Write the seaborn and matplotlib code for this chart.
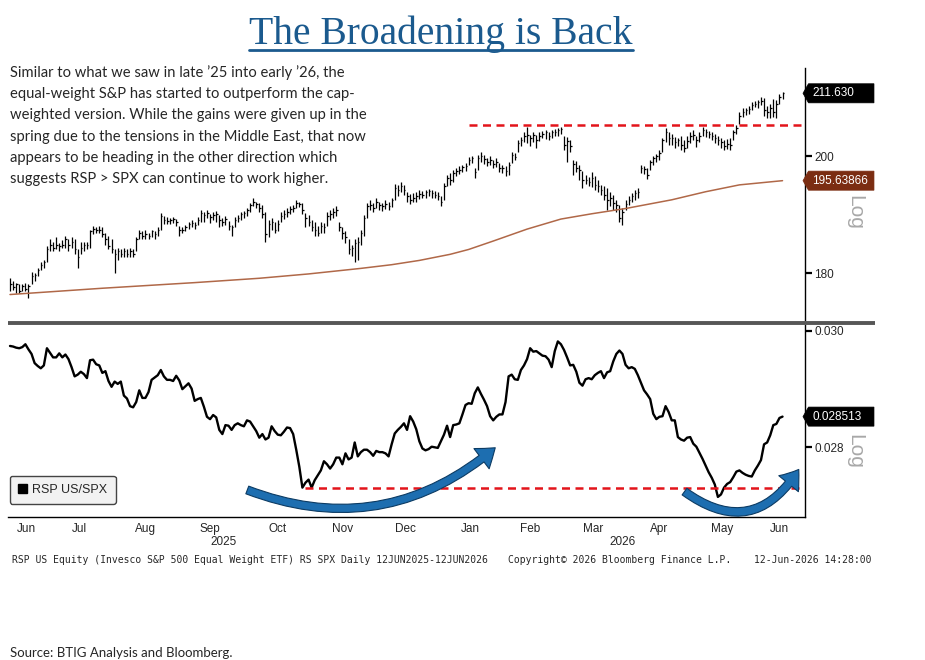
import numpy as np
import pandas as pd
import matplotlib
matplotlib.use("Agg")
import matplotlib.pyplot as plt
import matplotlib.ticker as mticker
from matplotlib.lines import Line2D
from matplotlib.patches import FancyArrowPatch, Patch
from matplotlib.path import Path
import seaborn as sns

# ---- data -------------------------------------------------------------
start_date = "2025-06-12"
end_date = "2026-06-12"
nyse_holidays = ["2025-06-19", "2025-07-04", "2025-09-01", "2025-11-27", "2025-12-25",
                 "2026-01-01", "2026-01-19", "2026-02-16", "2026-04-03", "2026-05-25"]

# RSP daily bars (high / low / close)
rsp_high = [
    179.2, 178.8, 178.5, 178.2, 178.3, 178.5, 178.3, 180.2, 180.0, 180.9,
    181.9, 182.2, 184.4, 185.6, 185.1, 185.9, 184.9, 185.4, 186.2, 185.6,
    185.9, 185.6, 183.9, 185.1, 185.2, 185.1, 187.2, 187.9, 187.7, 187.9,
    187.6, 186.7, 186.1, 185.6, 183.9, 184.2, 183.9, 184.1, 183.9, 184.1,
    183.9, 185.9, 187.2, 186.9, 187.1, 186.7, 187.2, 186.9, 187.6, 190.0,
    189.5, 189.4, 189.2, 189.4, 189.0, 187.9, 187.6, 188.0, 188.5, 188.9,
    188.5, 189.4, 190.5, 190.2, 190.5, 189.9, 190.2, 190.4, 189.7, 189.2,
    189.5, 188.7, 188.0, 189.4, 189.7, 190.2, 190.4, 190.9, 191.7, 192.6,
    192.0, 191.7, 191.4, 190.2, 188.9, 189.2, 188.5, 188.9, 190.2, 190.5,
    190.9, 191.2, 191.4, 192.2, 192.0, 191.7, 190.0, 189.7, 188.9, 188.5,
    187.9, 188.5, 188.4, 190.2, 190.5, 190.9, 191.2, 188.5, 187.7, 186.9,
    185.6, 184.7, 185.6, 185.9, 187.2, 189.7, 191.7, 192.2, 191.7, 192.6,
    192.0, 191.7, 192.2, 191.9, 192.7, 195.0, 194.9, 195.4, 194.9, 193.6,
    193.3, 193.5, 193.6, 194.0, 193.8, 194.0, 194.2, 194.0, 193.8, 193.6,
    192.9, 195.2, 196.6, 197.0, 197.5, 197.9, 198.2, 198.4, 198.8, 199.8,
    200.0, 197.9, 200.2, 200.7, 200.2, 199.6, 200.0, 199.3, 199.6, 198.8,
    198.4, 198.2, 198.9, 200.7, 200.6, 203.0, 203.5, 204.3, 205.4, 203.9,
    204.3, 203.9, 204.3, 204.6, 204.8, 204.4, 204.8, 205.0, 205.2, 205.4,
    203.7, 203.5, 203.0, 199.3, 199.1, 198.4, 197.3, 196.6, 196.3, 197.2,
    196.5, 195.8, 194.9, 194.7, 194.3, 193.6, 193.1, 192.2, 191.4, 190.9,
    192.2, 192.9, 193.5, 194.0, 194.3, 198.4, 198.2, 197.9, 199.3, 200.0,
    200.4, 201.1, 203.3, 205.2, 204.4, 204.1, 203.5, 203.3, 203.7, 203.0,
    203.7, 204.3, 204.8, 203.7, 204.4, 205.4, 205.0, 204.6, 204.4, 204.1,
    203.7, 203.3, 203.0, 203.1, 203.3, 204.8, 205.7, 208.1, 208.9, 208.9,
    209.3, 210.0, 210.2, 210.4, 210.9, 210.7, 209.3, 209.6, 210.5, 210.4,
    211.5, 211.8,
]
rsp_low = [
    177.2, 177.3, 176.8, 176.8, 177.2, 177.2, 176.0, 178.3, 178.8, 179.5,
    180.6, 180.9, 181.9, 183.6, 183.6, 183.9, 183.6, 184.1, 184.2, 183.7,
    184.2, 183.1, 180.9, 183.1, 183.6, 183.9, 184.2, 186.4, 186.6, 186.6,
    185.9, 184.7, 183.9, 183.4, 180.0, 182.2, 182.6, 182.7, 182.6, 182.7,
    182.6, 183.6, 185.6, 185.6, 185.7, 185.6, 185.9, 185.6, 186.2, 187.2,
    188.2, 188.2, 188.2, 188.4, 187.9, 186.2, 186.6, 186.9, 187.4, 187.6,
    187.4, 188.0, 188.5, 188.5, 189.2, 188.4, 188.9, 188.5, 187.7, 187.9,
    188.0, 187.2, 186.2, 187.6, 188.5, 188.9, 189.2, 189.5, 190.2, 191.2,
    190.9, 190.2, 189.2, 185.1, 185.9, 187.2, 186.6, 186.9, 188.5, 189.0,
    189.4, 189.9, 190.2, 190.9, 191.0, 189.9, 187.6, 187.9, 186.9, 186.2,
    186.1, 186.7, 186.6, 187.9, 188.9, 189.2, 189.5, 186.9, 185.6, 184.9,
    183.1, 182.9, 181.9, 182.2, 184.7, 186.2, 189.2, 190.5, 190.2, 190.9,
    190.5, 190.4, 190.7, 190.5, 191.0, 192.2, 192.9, 193.6, 193.1, 191.9,
    191.5, 191.9, 192.0, 192.4, 192.6, 192.7, 192.9, 192.7, 192.6, 192.2,
    191.2, 192.2, 194.7, 194.9, 195.4, 196.5, 196.8, 197.2, 197.3, 198.4,
    198.8, 196.1, 197.5, 198.9, 198.6, 198.2, 198.4, 197.9, 198.1, 197.2,
    197.0, 196.5, 196.6, 198.8, 199.3, 200.7, 201.9, 202.6, 202.4, 201.9,
    202.6, 201.5, 202.8, 203.3, 203.1, 203.0, 203.3, 203.7, 203.7, 204.1,
    201.1, 198.9, 200.7, 196.6, 197.2, 195.8, 194.3, 195.0, 194.7, 194.5,
    194.0, 193.6, 193.1, 192.2, 190.5, 191.2, 190.5, 190.2, 188.5, 188.0,
    190.5, 191.4, 191.9, 192.2, 192.6, 197.0, 196.8, 195.9, 197.5, 198.4,
    198.9, 199.3, 200.7, 202.6, 202.0, 202.0, 201.5, 201.9, 201.1, 200.7,
    201.5, 202.4, 203.0, 201.7, 202.6, 203.7, 203.5, 203.3, 203.0, 202.4,
    202.0, 201.5, 201.1, 201.3, 201.1, 203.0, 204.1, 205.9, 207.2, 207.6,
    207.8, 208.5, 209.1, 208.9, 209.4, 207.4, 207.0, 207.0, 207.2, 207.0,
    209.6, 210.5,
]
rsp_close = [
    178.2, 177.8, 178.2, 177.2, 178.0, 177.5, 178.0, 179.5, 179.7, 180.6,
    181.4, 181.9, 183.9, 184.7, 184.2, 184.7, 184.4, 184.7, 185.6, 184.7,
    185.2, 183.9, 182.6, 184.2, 184.7, 184.6, 186.9, 187.4, 187.2, 187.1,
    186.4, 185.6, 184.4, 183.9, 183.1, 183.6, 183.2, 183.6, 183.1, 183.7,
    183.2, 185.6, 186.7, 186.2, 186.4, 186.2, 186.9, 186.4, 187.2, 189.5,
    188.9, 188.7, 188.9, 189.0, 188.5, 187.1, 187.2, 187.6, 188.2, 188.4,
    188.0, 188.9, 190.0, 189.7, 190.0, 189.4, 189.7, 189.9, 188.9, 188.5,
    189.0, 187.9, 187.6, 188.9, 189.2, 189.9, 190.0, 190.5, 191.4, 192.0,
    191.5, 190.9, 189.9, 186.4, 188.2, 188.5, 187.2, 188.2, 189.5, 189.9,
    190.2, 190.7, 190.9, 191.7, 191.5, 190.5, 189.2, 188.5, 187.6, 187.2,
    186.7, 187.9, 187.6, 189.5, 189.9, 190.2, 190.5, 187.6, 186.6, 185.9,
    183.9, 184.2, 184.9, 185.2, 186.6, 189.2, 191.2, 191.4, 190.9, 191.9,
    191.4, 191.2, 191.5, 191.2, 192.2, 194.3, 194.0, 194.7, 194.0, 192.9,
    192.2, 192.7, 192.9, 193.3, 193.1, 193.6, 193.8, 193.5, 193.1, 192.9,
    191.9, 194.7, 196.1, 195.8, 197.0, 197.3, 197.5, 198.1, 198.2, 199.3,
    199.6, 197.2, 199.6, 200.0, 199.5, 198.9, 199.3, 198.6, 198.9, 197.9,
    197.9, 197.3, 198.4, 200.2, 199.8, 202.4, 203.0, 203.7, 203.9, 203.3,
    203.9, 203.0, 203.7, 204.1, 204.3, 203.7, 204.3, 204.4, 204.8, 205.0,
    202.0, 202.8, 201.9, 198.6, 197.9, 197.5, 195.8, 195.8, 195.4, 196.1,
    194.9, 194.7, 194.0, 193.1, 192.2, 192.6, 191.7, 191.4, 189.2, 190.2,
    191.5, 192.2, 192.9, 193.5, 193.6, 197.9, 197.7, 196.6, 198.9, 199.6,
    200.0, 200.6, 203.0, 204.4, 203.3, 203.3, 202.6, 203.0, 202.0, 201.5,
    202.8, 203.7, 203.9, 203.0, 203.7, 204.8, 204.3, 204.1, 203.7, 203.3,
    203.0, 202.6, 201.9, 202.2, 202.0, 204.3, 205.2, 207.4, 208.1, 208.5,
    208.7, 209.4, 209.6, 210.0, 210.2, 208.5, 208.1, 208.9, 208.1, 209.6,
    210.9, 211.63,
]

# 200-day moving average of RSP
ma_dates = ["2025-06-12", "2025-07-28", "2025-09-09", "2025-10-08", "2025-10-30",
            "2025-11-24", "2025-12-09", "2025-12-22", "2026-01-07", "2026-01-15",
            "2026-01-28", "2026-02-12", "2026-03-02", "2026-03-16", "2026-03-31",
            "2026-04-08", "2026-04-16", "2026-04-22", "2026-05-07", "2026-05-22",
            "2026-06-12"]
ma_200d = [176.6, 177.6, 178.5, 179.2, 179.9, 180.8, 181.4, 182.1, 183.1, 183.9,
           185.3, 187.3, 189.0, 189.9, 190.8, 191.3, 191.9, 192.3, 193.7, 194.9,
           195.63866]

# RSP / SPX relative strength, daily
rsp_spx = [
    0.02973, 0.02972, 0.02970, 0.02969, 0.02971, 0.02976, 0.02967, 0.02959, 0.02943, 0.02938,
    0.02934, 0.02939, 0.02969, 0.02961, 0.02953, 0.02953, 0.02960, 0.02953, 0.02958, 0.02950,
    0.02936, 0.02920, 0.02923, 0.02928, 0.02924, 0.02917, 0.02948, 0.02949, 0.02941, 0.02939,
    0.02926, 0.02929, 0.02912, 0.02902, 0.02911, 0.02907, 0.02911, 0.02887, 0.02882, 0.02869,
    0.02867, 0.02876, 0.02896, 0.02883, 0.02883, 0.02893, 0.02914, 0.02918, 0.02922, 0.02931,
    0.02920, 0.02914, 0.02914, 0.02912, 0.02921, 0.02913, 0.02898, 0.02903, 0.02908, 0.02899,
    0.02878, 0.02881, 0.02883, 0.02868, 0.02851, 0.02847, 0.02854, 0.02850, 0.02829, 0.02822,
    0.02837, 0.02836, 0.02829, 0.02837, 0.02840, 0.02837, 0.02835, 0.02845, 0.02843, 0.02835,
    0.02827, 0.02816, 0.02822, 0.02813, 0.02816, 0.02835, 0.02827, 0.02821, 0.02820, 0.02826,
    0.02833, 0.02832, 0.02822, 0.02796, 0.02768, 0.02734, 0.02742, 0.02747, 0.02734, 0.02746,
    0.02754, 0.02762, 0.02777, 0.02772, 0.02765, 0.02772, 0.02783, 0.02783, 0.02772, 0.02790,
    0.02780, 0.02783, 0.02808, 0.02785, 0.02792, 0.02796, 0.02796, 0.02792, 0.02786, 0.02794,
    0.02792, 0.02792, 0.02790, 0.02785, 0.02805, 0.02823, 0.02829, 0.02834, 0.02840, 0.02829,
    0.02852, 0.02843, 0.02830, 0.02810, 0.02798, 0.02795, 0.02797, 0.02801, 0.02800, 0.02799,
    0.02810, 0.02821, 0.02836, 0.02817, 0.02837, 0.02838, 0.02840, 0.02855, 0.02871, 0.02874,
    0.02873, 0.02891, 0.02901, 0.02890, 0.02880, 0.02869, 0.02852, 0.02845, 0.02851, 0.02855,
    0.02855, 0.02876, 0.02920, 0.02923, 0.02915, 0.02914, 0.02931, 0.02939, 0.02950, 0.02969,
    0.02963, 0.02964, 0.02960, 0.02956, 0.02955, 0.02949, 0.02936, 0.02964, 0.02981, 0.02976,
    0.02966, 0.02953, 0.02939, 0.02940, 0.02928, 0.02909, 0.02904, 0.02915, 0.02917, 0.02915,
    0.02922, 0.02926, 0.02929, 0.02917, 0.02927, 0.02929, 0.02946, 0.02959, 0.02965, 0.02959,
    0.02940, 0.02934, 0.02936, 0.02933, 0.02922, 0.02909, 0.02896, 0.02889, 0.02881, 0.02856,
    0.02847, 0.02851, 0.02852, 0.02869, 0.02859, 0.02845, 0.02845, 0.02817, 0.02813, 0.02811,
    0.02816, 0.02817, 0.02806, 0.02801, 0.02791, 0.02781, 0.02770, 0.02759, 0.02750, 0.02739,
    0.02719, 0.02723, 0.02734, 0.02740, 0.02743, 0.02751, 0.02760, 0.02762, 0.02758, 0.02755,
    0.02753, 0.02752, 0.02762, 0.02770, 0.02779, 0.02805, 0.02808, 0.02820, 0.02837, 0.02839,
    0.02849, 0.028513,
]

resistance_level = 205.65
resistance_from = "2026-01-15"
support_level = 0.02733
support_from = "2025-10-29"

days = pd.bdate_range(start_date, end_date, freq="C", holidays=nyse_holidays)
idx = np.arange(len(days))
bars = pd.DataFrame({"day": idx, "high": rsp_high, "low": rsp_low, "close": rsp_close})
ratio = pd.DataFrame({"day": idx, "ratio": rsp_spx})
ma = pd.DataFrame({"day": days.get_indexer(pd.to_datetime(ma_dates)), "ma": ma_200d})

# ---- layout -----------------------------------------------------------
W, H = 925, 660


def px_rect(x0, y0, x1, y1):
    return [x0 / W, 1 - y1 / H, (x1 - x0) / W, (y1 - y0) / H]


sns.set_style("white")
plt.rcParams["font.family"] = ["Liberation Sans", "DejaVu Sans"]

fig = plt.figure(figsize=(W / 100, H / 100), dpi=100)
ax1 = fig.add_axes(px_rect(8, 68, 805, 320))
ax2 = fig.add_axes(px_rect(8, 325, 805, 517))
x_lo, x_hi = -0.65, 258.3
red = "#e3141b"

# top panel: bars + 200d MA
ax1.vlines(bars["day"], bars["low"], bars["high"], color="black", lw=0.9)
ax1.hlines(bars["close"], bars["day"], bars["day"] + 0.5, color="black", lw=0.9)
sns.lineplot(data=ma, x="day", y="ma", ax=ax1, color="#b06848", lw=1.1)
ax1.hlines(resistance_level, days.get_loc(pd.Timestamp(resistance_from)), x_hi,
           colors=red, lw=1.8, linestyles=(0, (3.2, 2.2)))
ax1.set_yscale("log")
ax1.set_ylim(172.6, 216.5)
ax1.set_yticks([180, 200])
ax1.set_yticklabels(["180", "200"])

# bottom panel: relative strength line
sns.lineplot(data=ratio, x="day", y="ratio", ax=ax2, color="black", lw=1.7)
ax2.hlines(support_level, days.get_loc(pd.Timestamp(support_from)), x_hi,
           colors=red, lw=1.8, linestyles=(0, (3.2, 2.2)))
ax2.set_yscale("log")
ax2.set_ylim(0.026869, 0.030101)
ax2.set_yticks([0.028, 0.030])
ax2.set_yticklabels(["0.028", "0.030"])

for ax in (ax1, ax2):
    ax.set_xlim(x_lo, x_hi)
    ax.set_xlabel("")
    ax.set_ylabel("")
    ax.yaxis.tick_right()
    ax.yaxis.set_minor_locator(mticker.NullLocator())
    ax.tick_params(axis="y", which="major", direction="out", length=5, width=1.6,
                   color="black", labelsize=8.5, pad=1.5)
    for s in ("top", "left"):
        ax.spines[s].set_visible(False)
    ax.spines["right"].set_color("black")
    ax.spines["right"].set_linewidth(1.0)
ax1.spines["bottom"].set_visible(False)
ax1.set_xticks([])
ax2.spines["bottom"].set_color("black")
ax2.spines["bottom"].set_linewidth(1.0)

# month ticks and labels
month_start = [i for i in range(1, len(days)) if days[i].month != days[i - 1].month]
bounds = [x_lo] + [i - 0.5 for i in month_start] + [x_hi]
mids = [(a + b) / 2 for a, b in zip(bounds[:-1], bounds[1:])]
names = [days[0].strftime("%b")] + [days[i].strftime("%b") for i in month_start]
ax2.set_xticks([i - 0.5 for i in month_start])
ax2.set_xticklabels([])
ax2.set_xticks(mids, minor=True)
ax2.set_xticklabels(names, minor=True)
ax2.tick_params(axis="x", which="major", direction="out", length=3, width=1, color="black")
ax2.tick_params(axis="x", which="minor", length=0, labelsize=8.5, pad=4)

years = sorted(set(days.year))
for k, yr in enumerate(years):
    sel = np.where(days.year == yr)[0]
    lo = x_lo if k == 0 else sel[0] - 0.5
    hi = x_hi if k == len(years) - 1 else sel[-1] + 0.5
    ax2.text((lo + hi) / 2, -0.13, str(yr), transform=ax2.get_xaxis_transform(),
             ha="center", va="center", fontsize=8.5)

# legend
leg = ax2.legend(handles=[Patch(facecolor="black", edgecolor="black")], labels=["RSP US/SPX"],
                 loc="lower left", bbox_to_anchor=(0.0025, 0.068), borderaxespad=0,
                 fancybox=True, framealpha=1, facecolor="#f2f2f2", edgecolor="#444444",
                 fontsize=9, handlelength=0.75, handleheight=0.75, handletextpad=0.4,
                 borderpad=0.65)
leg.get_frame().set_linewidth(1.0)


# last-value tags on the right axis
def tag_style(x0, y0, width, height, mutation_size):
    pad = 0.3 * mutation_size
    left, bottom, top = x0 - pad, y0 - pad, y0 + height + pad
    right = left + 65.5
    return Path([(left, bottom), (right, bottom), (right, top), (left, top),
                 (left - 5.5, (bottom + top) / 2), (left, bottom)], closed=True)


def value_tag(ax, y, label, color):
    ax.text(1.0088, y, label, transform=ax.get_yaxis_transform(), ha="left", va="center",
            color="white", fontsize=8.5, zorder=6, clip_on=False,
            bbox=dict(boxstyle=tag_style, fc=color, ec=color, lw=0.5))


for ax, yc in ((ax1, 0.425), (ax2, 0.34)):
    ax.text(1.062, yc, "Log", transform=ax.transAxes, rotation=270, ha="center",
            va="center", color="#a8a8a8", fontsize=15, zorder=1)

value_tag(ax1, rsp_close[-1], f"{rsp_close[-1]:.3f}", "black")
value_tag(ax1, ma_200d[-1], f"{ma_200d[-1]:.5f}", "#7b2d12")
value_tag(ax2, rsp_spx[-1], f"{rsp_spx[-1]:.6f}", "black")

# curved blue arrows
arrow_kw = dict(arrowstyle="simple,head_length=0.9,head_width=1.3,tail_width=0.42",
                mutation_scale=14, fc="#1d6eb0", ec="#0c3b63", lw=0.8,
                transform=ax2.transAxes, clip_on=False, zorder=4)
ax2.add_patch(FancyArrowPatch((0.297, 0.146), (0.614, 0.37),
                              connectionstyle="arc3,rad=0.3", **arrow_kw))
ax2.add_patch(FancyArrowPatch((0.846, 0.141), (0.994, 0.26),
                              connectionstyle="arc3,rad=0.55", **arrow_kw))

# panel separator
fig.add_artist(Line2D([8 / W, 875 / W], [1 - 322.5 / H] * 2, color="#565656", lw=2.8,
                      solid_capstyle="butt"))

# title with underline
title_color = "#1b5a8e"
title = fig.text(441 / W, 1 - 44 / H, "The Broadening is Back", ha="center", va="baseline",
                 family="Liberation Serif", fontsize=28.5, color=title_color)
fig.canvas.draw()
bb = title.get_window_extent(fig.canvas.get_renderer())
fig.add_artist(Line2D([bb.x0 / W, bb.x1 / W], [1 - 49.5 / H] * 2, color=title_color, lw=2))

# commentary
note = ("Similar to what we saw in late \u201925 into early \u201926, the\n"
        "equal-weight S&P has started to outperform the cap-\n"
        "weighted version. While the gains were given up in the\n"
        "spring due to the tensions in the Middle East, that now\n"
        "appears to be heading in the other direction which\n"
        "suggests RSP > SPX can continue to work higher.")
fig.text(10 / W, 1 - 65 / H, note, ha="left", va="top", family="Lato", fontsize=10.6,
         linespacing=1.66)

# footers
foot_y = 1 - 560 / H
fig.text(12 / W, foot_y, "RSP US Equity (Invesco S&P 500 Equal Weight ETF) RS SPX Daily 12JUN2025-12JUN2026",
         family="DejaVu Sans Mono", fontsize=7, va="center")
fig.text(508 / W, foot_y, "Copyright\u00a9 2026 Bloomberg Finance L.P.",
         family="DejaVu Sans Mono", fontsize=7, va="center")
fig.text(871 / W, foot_y, "12-Jun-2026 14:28:00", family="DejaVu Sans Mono", fontsize=7,
         va="center", ha="right")
fig.text(10 / W, 1 - 653 / H, "Source: BTIG Analysis and Bloomberg.", family="Lato",
         fontsize=9.5, va="center")

fig.savefig("out.png", dpi=100)
